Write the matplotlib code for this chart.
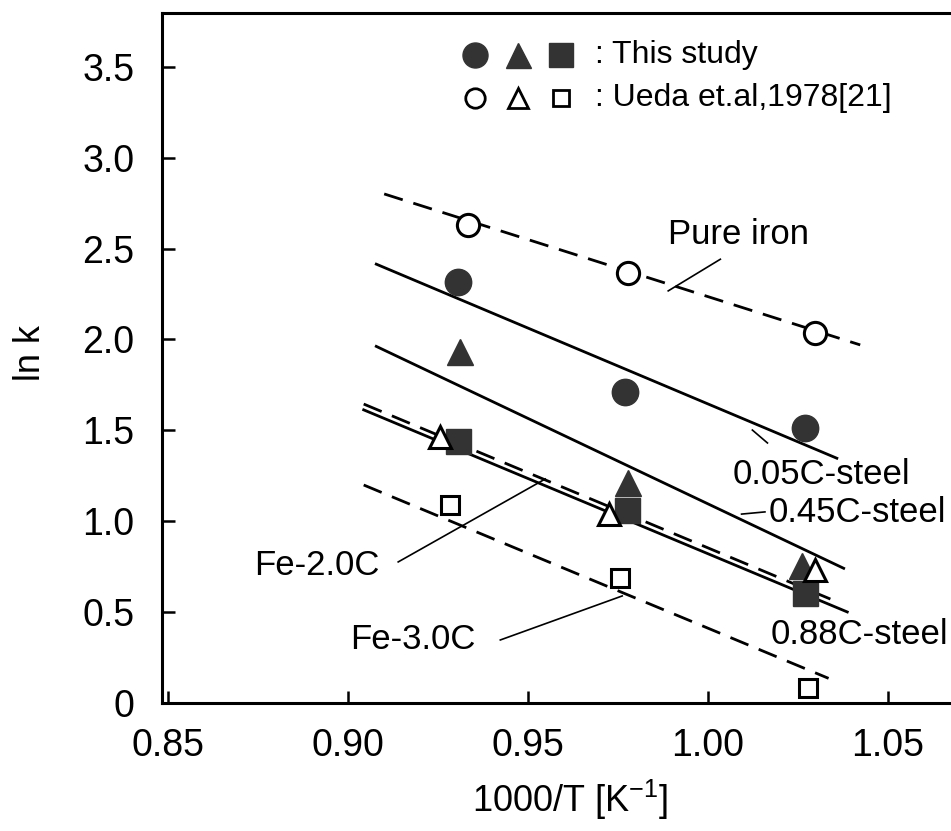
import matplotlib
matplotlib.use('Agg')
import matplotlib.pyplot as plt

plt.rcParams['font.family'] = ['Liberation Sans', 'DejaVu Sans']
plt.rcParams['mathtext.default'] = 'regular'

# 本研究 (filled marks)
x_circ = [0.9306, 0.9771, 1.0271]
y_circ = [2.316, 1.712, 1.513]
x_tri = [0.9312, 0.9778, 1.0263]
y_tri = [1.931, 1.21, 0.752]
x_sq = [0.9306, 0.9776, 1.0271]
y_sq = [1.443, 1.063, 0.606]

# Ueda et al. 1978 (open marks)
x_ocirc = [0.9333, 0.9778, 1.0297]
y_ocirc = [2.629, 2.367, 2.035]
x_otri = [0.9256, 0.9726, 1.0297]
y_otri = [1.464, 1.04, 0.733]
x_osq = [0.9283, 0.9757, 1.028]
y_osq = [1.092, 0.69, 0.084]

# fitted lines (end points)
fit_names = ['Pure iron', '0.05C-steel', '0.45C-steel', '0.88C-steel', 'Fe-2.0C', 'Fe-3.0C']
fit_x0 = [0.9100, 0.9078, 0.9078, 0.9043, 0.9043, 0.9043]
fit_x1 = [1.0424, 1.0359, 1.0378, 1.0388, 1.0341, 1.0336]
fit_y0 = [2.800, 2.414, 1.962, 1.613, 1.645, 1.200]
fit_y1 = [1.970, 1.347, 0.742, 0.502, 0.573, 0.137]
fit_dashed = [True, False, False, False, True, True]

# labels: text position and leader line
lab_text = ['Pure iron', '0.05C-steel', '0.45C-steel', '0.88C-steel', 'Fe-2.0C', 'Fe-3.0C']
lab_x = [0.989, 1.0068, 1.0169, 1.0174, 0.8737, 0.9006]
lab_y = [2.575, 1.255, 1.046, 0.376, 0.760, 0.348]
lead_x0 = [1.0035, 1.0124, 1.0094, None, 0.9139, 0.9423]
lead_y0 = [2.441, 1.502, 1.040, None, 0.777, 0.348]
lead_x1 = [0.9890, 1.0166, 1.0159, None, 0.9548, 0.9762]
lead_y1 = [2.267, 1.431, 1.052, None, 1.233, 0.590]

xticks = [0.85, 0.90, 0.95, 1.00, 1.05]
xtick_labels = ['0.85', '0.90', '0.95', '1.00', '1.05']
yticks = [0, 0.5, 1.0, 1.5, 2.0, 2.5, 3.0, 3.5]
ytick_labels = ['0', '0.5', '1.0', '1.5', '2.0', '2.5', '3.0', '3.5']

fill_c = '#333333'

fig = plt.figure(figsize=(9.51, 8.31), dpi=100)
ax = fig.add_axes([0.1707, 0.1537, 0.876, 0.8303])

# 拟合线
for i in range(len(fit_names)):
	ls = (0, (7, 4)) if fit_dashed[i] else '-'
	ax.plot([fit_x0[i], fit_x1[i]], [fit_y0[i], fit_y1[i]], color='black', lw=2, linestyle=ls, zorder=2)

# 引出线和文字
for i in range(len(lab_text)):
	if lead_x0[i] is not None:
		ax.plot([lead_x0[i], lead_x1[i]], [lead_y0[i], lead_y1[i]], color='black', lw=1.2, zorder=2)
	ax.text(lab_x[i], lab_y[i], lab_text[i], fontsize=25, ha='left', va='center')

# 数据点
ax.plot(x_sq, y_sq, 's', ms=18, color=fill_c, mec=fill_c, ls='none', zorder=3)
ax.plot(x_circ, y_circ, 'o', ms=19, color=fill_c, mec=fill_c, ls='none', zorder=3)
ax.plot(x_tri, y_tri, '^', ms=19, color=fill_c, mec=fill_c, ls='none', zorder=3)
ax.plot(x_ocirc, y_ocirc, 'o', ms=16, mfc='white', mec='black', mew=2.2, ls='none', zorder=4)
ax.plot(x_otri, y_otri, '^', ms=16, mfc='white', mec='black', mew=2.2, ls='none', zorder=4)
ax.plot(x_osq, y_osq, 's', ms=13, mfc='white', mec='black', mew=2.2, ls='none', zorder=4)

# 图例
tr = ax.transAxes
ax.plot([0.3754], [0.9396], 'o', ms=18, color=fill_c, transform=tr)
ax.plot([0.4270], [0.9396], '^', ms=18, color=fill_c, transform=tr)
ax.plot([0.4786], [0.9396], 's', ms=17, color=fill_c, transform=tr)
ax.text(0.5190, 0.9396, ': This study', fontsize=23, ha='left', va='center', transform=tr)
ax.plot([0.3754], [0.8772], 'o', ms=14, mfc='white', mec='black', mew=2, transform=tr)
ax.plot([0.4270], [0.8772], '^', ms=14, mfc='white', mec='black', mew=2, transform=tr)
ax.plot([0.4786], [0.8772], 's', ms=12, mfc='white', mec='black', mew=2, transform=tr)
ax.text(0.5190, 0.8772, ': Ueda et.al,1978[21]', fontsize=23, ha='left', va='center', transform=tr)

ax.set_xlim(0.8483, 1.08)
ax.set_ylim(0, 3.793)
ax.set_xticks(xticks)
ax.set_xticklabels(xtick_labels)
ax.set_yticks(yticks)
ax.set_yticklabels(ytick_labels)
ax.tick_params(direction='in', length=9, width=1.8, labelsize=27, pad=18)
ax.tick_params(axis='y', pad=20)
for s in ax.spines.values():
	s.set_linewidth(2.2)

fig.text(570 / 951, 1 - 800 / 831, '1000/T [K$^{-1}$]', fontsize=26, ha='center', va='center')
fig.text(30 / 951, 1 - 353 / 831, 'ln k', fontsize=26, ha='center', va='center', rotation=90)

fig.savefig('out.png', dpi=100)
